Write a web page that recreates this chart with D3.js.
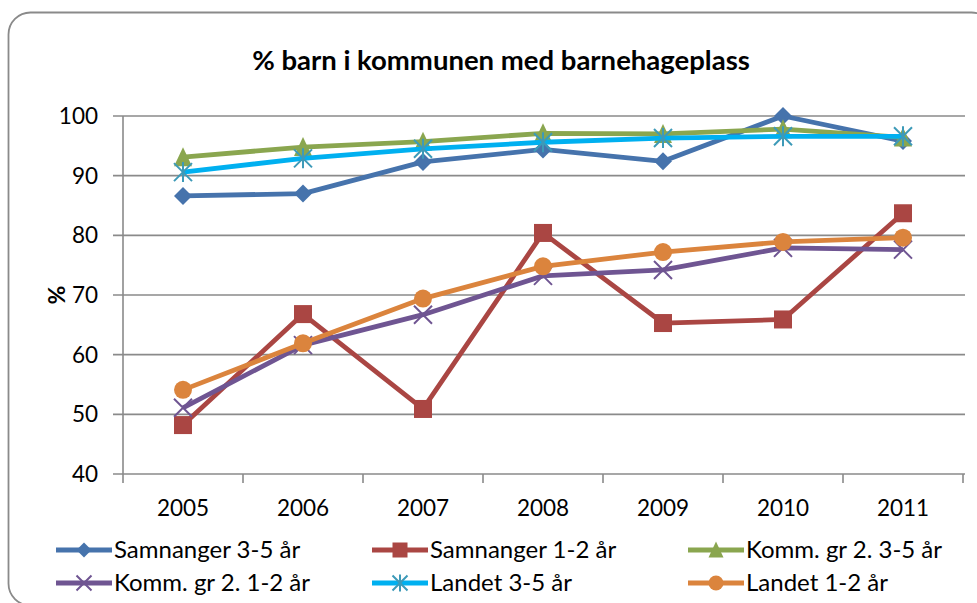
<!DOCTYPE html>
<html>
<head>
<meta charset="utf-8">
<script src="https://cdn.jsdelivr.net/npm/d3@7"></script>
<style>
  html, body { margin: 0; padding: 0; background: #fff; }
  svg { display: block; }
  text { font-family: Lato, "Open Sans", sans-serif; fill: #000; }
</style>
</head>
<body>
<svg id="chart" width="977" height="603"></svg>
<script>
const years = ["2005", "2006", "2007", "2008", "2009", "2010", "2011"];
const yTicks = [40, 50, 60, 70, 80, 90, 100];
const seriesNames = [
  "Samnanger 3-5 år",
  "Samnanger 1-2 år",
  "Komm. gr 2. 3-5 år",
  "Komm. gr 2. 1-2 år",
  "Landet 3-5 år",
  "Landet 1-2 år",
];
const samnanger35 = [86.6, 87.0, 92.3, 94.4, 92.4, 100, 95.8];
const samnanger12 = [48.2, 66.8, 50.9, 80.4, 65.3, 65.9, 83.7];
const komm35 = [93.1, 94.8, 95.7, 97.1, 97.0, 97.8, 96.4];
const komm12 = [51.1, 61.6, 66.7, 73.2, 74.2, 77.9, 77.6];
const landet35 = [90.6, 92.9, 94.5, 95.6, 96.3, 96.6, 96.6];
const landet12 = [54.1, 61.9, 69.4, 74.8, 77.2, 78.9, 79.6];

const seriesValues = [samnanger35, samnanger12, komm35, komm12, landet35, landet12];
const lineColors = ["#4673AC", "#AA4643", "#8AA64F", "#6F5592", "#00B0F0", "#DB843D"];
const markerColors = ["#4673AC", "#AA4643", "#8AA64F", "#6F5592", "#3D9AB8", "#DB843D"];
const markerTypes = ["diamond", "square", "triangle", "x", "star", "circle"];

const svg = d3.select("#chart");
const margin = { left: 123, right: 14, top: 116, bottom: 129 };
const W = 977, H = 603;

// frame
svg.append("rect")
  .attr("x", 8.5).attr("y", 12.5)
  .attr("width", 985).attr("height", 593)
  .attr("rx", 22).attr("ry", 22)
  .attr("fill", "#fff")
  .attr("stroke", "#8a8a8a")
  .attr("stroke-width", 1.8);

const x = d3.scaleBand().domain(years).range([margin.left, W - margin.right]);
const y = d3.scaleLinear().domain([40, 100]).range([H - margin.bottom, margin.top]);

// gridlines
svg.append("g")
  .selectAll("line")
  .data(yTicks)
  .join("line")
  .attr("x1", margin.left - 10)
  .attr("x2", W - margin.right + 2)
  .attr("y1", (d) => y(d))
  .attr("y2", (d) => y(d))
  .attr("stroke", "#8a8a8a")
  .attr("stroke-width", 1.6);

// y axis line
svg.append("line")
  .attr("x1", margin.left).attr("x2", margin.left)
  .attr("y1", y(100)).attr("y2", y(40))
  .attr("stroke", "#8a8a8a").attr("stroke-width", 1.6);

// x axis ticks at band boundaries
const boundaries = years.map((d) => x(d)).concat([x(years[years.length - 1]) + x.bandwidth()]);
svg.append("g")
  .selectAll("line")
  .data(boundaries)
  .join("line")
  .attr("x1", (d) => d).attr("x2", (d) => d)
  .attr("y1", y(40)).attr("y2", y(40) + 9)
  .attr("stroke", "#8a8a8a").attr("stroke-width", 1.6);

// y tick labels
svg.append("g")
  .selectAll("text")
  .data(yTicks)
  .join("text")
  .attr("x", margin.left - 25)
  .attr("y", (d) => y(d))
  .attr("dy", "0.35em")
  .attr("text-anchor", "end")
  .style("font-size", "22.5px")
  .text((d) => d);

// x tick labels
svg.append("g")
  .selectAll("text")
  .data(years)
  .join("text")
  .attr("x", (d) => x(d) + x.bandwidth() / 2)
  .attr("y", 516)
  .attr("text-anchor", "middle")
  .style("font-size", "22.5px")
  .text((d) => d);

// title
svg.append("text")
  .attr("x", 501)
  .attr("y", 70)
  .attr("text-anchor", "middle")
  .style("font-size", "27.5px")
  .style("font-weight", "bold")
  .text("% barn i kommunen med barnehageplass");

// y label
svg.append("text")
  .attr("transform", `translate(65,${(y(40) + y(100)) / 2}) rotate(-90)`)
  .attr("text-anchor", "middle")
  .style("font-size", "23px")
  .style("font-weight", "bold")
  .text("%");

function drawMarker(g, type, color, s) {
  const h = s / 2;
  if (type === "diamond") {
    g.append("path").attr("d", `M0,${-h}L${h},0L0,${h}L${-h},0Z`).attr("fill", color);
  } else if (type === "square") {
    g.append("rect").attr("x", -h).attr("y", -h).attr("width", s).attr("height", s).attr("fill", color);
  } else if (type === "triangle") {
    g.append("path").attr("d", `M0,${-h - 1}L${h},${h}L${-h},${h}Z`).attr("fill", color);
  } else if (type === "circle") {
    g.append("circle").attr("r", h).attr("fill", color);
  } else if (type === "x") {
    g.append("path").attr("d", `M${-h},${-h}L${h},${h}M${-h},${h}L${h},${-h}`)
      .attr("stroke", color).attr("stroke-width", 2).attr("fill", "none");
  } else if (type === "star") {
    g.append("path").attr("d", `M${-h},${-h}L${h},${h}M${-h},${h}L${h},${-h}M0,${-h - 1}L0,${h + 1}`)
      .attr("stroke", color).attr("stroke-width", 2).attr("fill", "none");
  }
}

const line = d3.line()
  .x((d, i) => x(years[i]) + x.bandwidth() / 2)
  .y((d) => y(d));

seriesValues.forEach((vals, si) => {
  const g = svg.append("g");
  g.append("path")
    .datum(vals)
    .attr("d", line)
    .attr("fill", "none")
    .attr("stroke", lineColors[si])
    .attr("stroke-width", 4.8)
    .attr("stroke-linejoin", "round");
  vals.forEach((v, i) => {
    const mg = g.append("g")
      .attr("transform", `translate(${x(years[i]) + x.bandwidth() / 2},${y(v)})`);
    drawMarker(mg, markerTypes[si], markerColors[si], 18);
  });
});

// legend
const legend = svg.append("g");
seriesNames.forEach((name, i) => {
  const col = i % 3, row = Math.floor(i / 3);
  const lx = 56 + col * 316, ly = 550 + row * 33;
  const lg = legend.append("g").attr("transform", `translate(${lx},${ly})`);
  lg.append("line")
    .attr("x1", 0).attr("x2", 56)
    .attr("y1", 0).attr("y2", 0)
    .attr("stroke", lineColors[i])
    .attr("stroke-width", 4.8);
  const mg = lg.append("g").attr("transform", "translate(28,0)");
  drawMarker(mg, markerTypes[i], markerColors[i], 15);
  lg.append("text")
    .attr("x", 58)
    .attr("y", 0)
    .attr("dy", "0.35em")
    .style("font-size", "24px")
    .text(name);
});
</script>
</body>
</html>
